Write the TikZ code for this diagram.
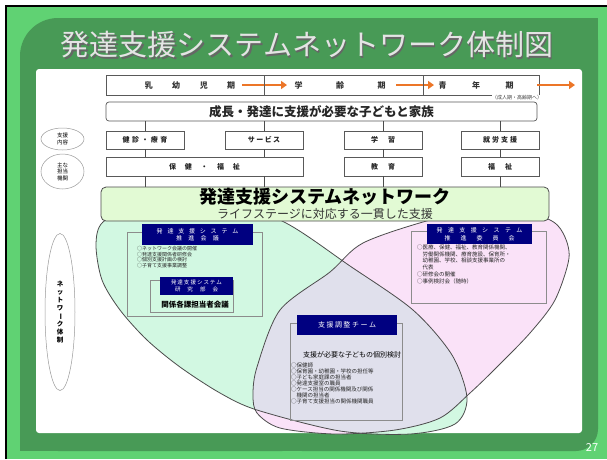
\documentclass[tikz,border=0pt]{standalone}
\usepackage{fontspec}
\setmainfont{Noto Sans CJK JP}
\usetikzlibrary{arrows.meta,shapes.geometric}
\newcommand\fsz[1]{\fontsize{#1}{#1}\selectfont}
\makeatletter
\newcommand\spacedtext[2]{\def\spc@sep{}\@tfor\spc@c:=#2\do{\spc@sep\spc@c\def\spc@sep{\kern#1}}}
\makeatother
\definecolor{lgreen}{RGB}{96,210,115}
\definecolor{dgreen}{RGB}{72,154,86}
\definecolor{mint}{RGB}{210,248,226}
\definecolor{pinkf}{RGB}{250,226,248}
\definecolor{grayf}{RGB}{224,224,236}
\definecolor{boxg}{RGB}{226,250,212}
\definecolor{navyc}{RGB}{0,0,128}
\definecolor{orng}{RGB}{236,118,40}
\definecolor{titleg}{RGB}{228,228,228}
\tikzset{
 bx/.style={draw=black!65, line width=0.7pt, fill=white, inner sep=0pt, font=\fontsize{7}{7}\selectfont\bfseries, text=black!85},
 hd/.style={fill=navyc, text=white, inner sep=0pt, align=center, font=\fontsize{6}{7.5}\selectfont},
 thinbox/.style={draw=black!45, line width=0.5pt, inner sep=0pt},
 tk/.style={draw=black!70, line width=1pt},
 ov/.style={ellipse, draw=black!40, line width=0.5pt, fill=white, inner sep=0pt, align=center},
 oarr/.style={draw=orng, line width=2.6pt, -{Triangle[length=6pt,width=8pt]}},
 lst/.style={inner sep=0pt, align=left, anchor=north west, text=black!85, font=\fontsize{5.5}{6.8}\selectfont},
 venn/.style={draw=black!70, line width=0.8pt},
}
\begin{document}
\begin{tikzpicture}[x=1pt,y=-1pt]
\useasboundingbox (0,0) rectangle (607,459);
\fill[white] (0,0) rectangle (607,459);
\fill[lgreen] (6,6) rectangle (607,459);
\draw[black,line width=1.5pt] (6,459) -- (6,6) -- (607,6);
% dark green panel
\fill[dgreen, rounded corners=38pt] (20,18) rectangle (320,451);
\fill[dgreen] (20,300) rectangle (320,451);
\fill[dgreen, rounded corners=22pt] (280,18) rectangle (598,451);
\fill[dgreen] (280,18) rectangle (598,200);
% title
\node[text=black!60, font=\fsz{29}] at (308.5,46.5) {発達支援システムネットワーク体制図};
\node[text=titleg, font=\fsz{29}] (title) at (307,45) {発達支援システムネットワーク体制図};
% white area
\fill[white, rounded corners=3pt] (36,69) rectangle (582,433);

% Venn shapes
\fill[mint] plot[smooth cycle] coordinates {(96,245) (103,222) (140,206) (215,203) (282,221) (350,266) (413,310) (452,355) (467,398) (455,424) (410,434) (340,431) (257,410) (220,393) (180,367) (147,340) (120,310) (102,280)};
\fill[pinkf] plot[smooth cycle] coordinates {(500,205) (548,219) (563,233) (569,258) (555,300) (530,333) (497,367) (470,393) (440,418) (395,430) (335,434) (280,428) (257,413) (253,395) (257,367) (280,310) (330,272) (363,243) (430,220)};
\begin{scope}
\clip plot[smooth cycle] coordinates {(96,245) (103,222) (140,206) (215,203) (282,221) (350,266) (413,310) (452,355) (467,398) (455,424) (410,434) (340,431) (257,410) (220,393) (180,367) (147,340) (120,310) (102,280)};
\fill[grayf] plot[smooth cycle] coordinates {(500,205) (548,219) (563,233) (569,258) (555,300) (530,333) (497,367) (470,393) (440,418) (395,430) (335,434) (280,428) (257,413) (253,395) (257,367) (280,310) (330,272) (363,243) (430,220)};
\end{scope}
\draw[venn] plot[smooth cycle] coordinates {(96,245) (103,222) (140,206) (215,203) (282,221) (350,266) (413,310) (452,355) (467,398) (455,424) (410,434) (340,431) (257,410) (220,393) (180,367) (147,340) (120,310) (102,280)};
\draw[venn] plot[smooth cycle] coordinates {(500,205) (548,219) (563,233) (569,258) (555,300) (530,333) (497,367) (470,393) (440,418) (395,430) (335,434) (280,428) (257,413) (253,395) (257,367) (280,310) (330,272) (363,243) (430,220)};

% top band
\node[bx, minimum width=433pt, minimum height=20pt] (band) at (322.5,85) {};
\draw[oarr] (242,85) -- (287,85);
\draw[oarr] (396,85) -- (434,85);
\draw[oarr] (537,85) -- (575,85);
\draw[black!65, line width=0.7pt] (264,75) -- (264,95);
\draw[black!65, line width=0.7pt] (423,75) -- (423,95);
\node[font=\fontsize{8}{8}\selectfont\bfseries, text=black!80, inner sep=0] (s1) at (190,85) {\spacedtext{19.5pt}{乳幼児期}};
\node[font=\fontsize{8}{8}\selectfont\bfseries, text=black!80, inner sep=0] (s2) at (340,85) {\spacedtext{33.5pt}{学齢期}};
\node[font=\fontsize{8}{8}\selectfont\bfseries, text=black!80, inner sep=0] (s3) at (476,85) {\spacedtext{25.5pt}{青年期}};
\node[font=\fontsize{5}{5}\selectfont, text=black!75, inner sep=0.5pt, fill=white] (s4) at (517,98) {（成人期・高齢期へ）};

% need box
\node[bx, rounded corners=3pt, minimum width=431pt, minimum height=19pt, font=\fontsize{12.5}{12.5}\selectfont\bfseries] (need) at (321.5,111.5) {成長・発達に支援が必要な子どもと家族};

% left ovals
\node[ov, minimum width=43pt, minimum height=22pt, font=\fontsize{5.5}{6.5}\selectfont] (ov1) at (62.5,139) {支援\\内容};
\node[ov, minimum width=43pt, minimum height=35pt, font=\fontsize{5.5}{6.5}\selectfont] (ov2) at (62.5,171.5) {主な\\担当\\機関};

% rows
\node[bx, minimum width=78pt, minimum height=18pt] (r1a) at (145,140) {\spacedtext{2.5pt}{健診・療育}};
\node[bx, minimum width=78pt, minimum height=18pt] (r1b) at (264,140) {\spacedtext{1.5pt}{サービス}};
\node[bx, minimum width=78pt, minimum height=18pt] (r1c) at (383,140) {\spacedtext{10pt}{学習}};
\node[bx, minimum width=78pt, minimum height=18pt] (r1d) at (500,140) {\spacedtext{2pt}{就労支援}};
\node[bx, minimum width=197pt, minimum height=19pt] (r2a) at (204.5,166.5) {\spacedtext{9pt}{保健・福祉}};
\node[bx, minimum width=78pt, minimum height=19pt] (r2c) at (383,166.5) {\spacedtext{10pt}{教育}};
\node[bx, minimum width=78pt, minimum height=19pt] (r2d) at (500,166.5) {\spacedtext{10pt}{福祉}};

% big box
\node[draw=black!70, line width=0.8pt, fill=boxg, rounded corners=5pt, minimum width=448pt, minimum height=34pt] (net) at (325,204) {};
\node[font=\fontsize{18}{18}\selectfont\bfseries, inner sep=0] (netT) at (325,197) {発達支援システムネットワーク};
\node[font=\fontsize{12}{12}\selectfont, inner sep=0, text=black!80] (netS) at (325,213.5) {ライフステージに対応する一貫した支援};

% ticks
\foreach \b in {r1a,r1b,r1c,r1d} {\draw[tk] (\b.north) -- (\b.north |- need.south);}
\draw[tk] (r1a.south) -- (r1a.south |- r2a.north);
\draw[tk] (r1b.south) -- (r1b.south |- r2a.north);
\draw[tk] (r1c.south) -- (r2c.north);
\draw[tk] (r1d.south) -- (r2d.north);
\draw[tk] (r1a |- r2a.south) -- (r1a |- net.north);
\draw[tk] (r1b |- r2a.south) -- (r1b |- net.north);
\draw[tk] (r2c.south) -- (r2c |- net.north);
\draw[tk] (r2d.south) -- (r2d |- net.north);

% vertical oval
\node[ov, minimum width=30pt, minimum height=157pt, font=\fontsize{6.5}{8.1}\selectfont\bfseries] (nw) at (60,312) {ネ\\ッ\\ト\\ワ\\\rotatebox[origin=c]{-90}{ー}\\ク\\体\\制};

% left box
\node[thinbox, minimum width=135pt, minimum height=84pt] (lb) at (194.5,274) {};
\node[hd, minimum width=111pt, minimum height=21pt] (lbh) at (197.5,234.5) {\spacedtext{4.8pt}{発達支援システム}\\\spacedtext{6.3pt}{推進会議}};
\node[lst, font=\fontsize{5}{5.4}\selectfont] (lbl) at (137,246.5) {○ネットワーク会議の開催\\○発達支援関係者研修会\\○個別支援計画の検討\\○子育て支援事業調整};
\node[thinbox, minimum width=83pt, minimum height=32pt] (sb) at (191.5,296) {};
\node[hd, minimum width=73pt, minimum height=18pt, font=\fontsize{5.5}{7}\selectfont] (sbh) at (196.5,286) {\spacedtext{1pt}{発達支援システム}\\\spacedtext{7pt}{研究部会}};
\node[font=\fontsize{7.5}{7.5}\selectfont\bfseries, inner sep=0] (sbt) at (195,305) {関係各課担当者会議};

% right box
\node[thinbox, minimum width=135pt, minimum height=72pt] (rb) at (478.5,267) {};
\node[hd, minimum width=105pt, minimum height=20pt] (rbh) at (479.5,234) {\spacedtext{5.4pt}{発達支援システム}\\\spacedtext{10pt}{推進委員会}};
\node[lst] (rbl) at (417,244.5) {○医療、保健、福祉、教育関係機関、\\　労働関係機関、療育施設、保育所・\\　幼稚園、学校、相談支援事業所の\\　代表\\○研修会の開催\\○事例検討会（随時）};

% center box
\node[thinbox, minimum width=112pt, minimum height=97pt] (cb) at (346,371.5) {};
\node[hd, minimum width=100pt, minimum height=20pt, font=\fontsize{7}{7}\selectfont] (cbh) at (347,325) {\spacedtext{1.5pt}{支援調整チーム}};
\node[font=\fontsize{7}{7}\selectfont, inner sep=0] (cbt) at (352,355) {支援が必要な子どもの個別検討};
\node[lst, font=\fontsize{5.5}{6}\selectfont] (cbl) at (291,362.5) {○保健師\\○保育園・幼稚園・学校の担任等\\○子ども家庭課の担当者\\○発達支援室の職員\\○ケース担当の関係機関及び関係\\　機関の担当者\\○子育て支援担当の関係機関職員};

% page number
\node[text=white, font=\fontsize{11}{11}\selectfont, inner sep=0] (pg) at (592,447) {27};
\end{tikzpicture}
\end{document}
